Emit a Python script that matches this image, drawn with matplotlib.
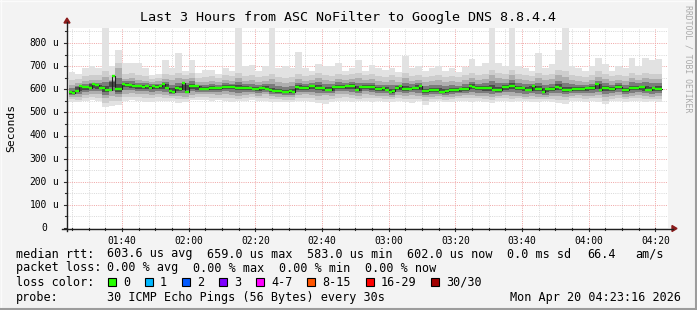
#!/usr/bin/env python3

import numpy as np
import matplotlib
matplotlib.use("Agg")
import matplotlib.pyplot as plt
from matplotlib.patches import Rectangle, Polygon
from matplotlib.lines import Line2D
from matplotlib import transforms

# --- data (microseconds, minutes since midnight) ---------------------------
first_minute = 84          # 01:24, one median per minute
median_rtt = [
    588, 583, 592, 612, 608, 610, 607, 622, 618, 606,
    604, 597, 598, 659, 601, 600, 621, 619, 618, 614,
    612, 613, 609, 616, 606, 614, 610, 612, 621, 604,
    592, 590, 604, 603, 628, 590, 612, 616, 614, 599,
    603, 602, 604, 605, 606, 605, 609, 610, 611, 610,
    607, 605, 606, 604, 605, 600, 599, 604, 606, 603,
    596, 594, 593, 592, 590, 588, 591, 589, 609, 605,
    604, 606, 613, 612, 605, 606, 604, 597, 598, 610,
    609, 611, 610, 614, 613, 612, 596, 610, 609, 611,
    610, 608, 603, 602, 604, 597, 590, 591, 605, 612,
    602, 601, 603, 605, 606, 612, 593, 592, 597, 598,
    597, 590, 589, 591, 597, 598, 596, 600, 601, 600,
    612, 611, 605, 606, 604, 605, 606, 598, 597, 596,
    608, 609, 613, 614, 605, 606, 604, 597, 598, 612,
    602, 601, 590, 600, 601, 599, 608, 607, 597, 596,
    598, 600, 601, 600, 599, 605, 606, 604, 622, 597,
    605, 604, 602, 601, 610, 609, 597, 598, 605, 604,
    606, 610, 611, 597, 596, 605, 602, 602,
]

# smoke, one column per two minutes
smoke_minutes = 2
ping_max = [
    675, 665, 690, 700, 690, 900, 700, 770, 713, 713,
    713, 690, 660, 665, 726, 690, 756, 680, 726, 670,
    683, 683, 665, 690, 680, 900, 700, 705, 680, 700,
    900, 690, 700, 690, 760, 690, 680, 710, 700, 700,
    713, 680, 690, 725, 680, 705, 690, 685, 690, 675,
    745, 690, 700, 680, 690, 700, 680, 690, 675, 695,
    730, 700, 713, 900, 713, 700, 900, 700, 690, 680,
    755, 690, 710, 770, 900, 700, 690, 680, 700, 735,
    710, 680, 700, 690, 735, 700, 735, 725, 730,
]
ping_upper = [
    620, 625, 635, 640, 640, 655, 640, 690, 645, 650,
    640, 635, 630, 635, 645, 640, 650, 645, 650, 630,
    630, 635, 630, 640, 635, 650, 635, 640, 630, 635,
    645, 630, 625, 630, 645, 635, 640, 650, 640, 635,
    645, 640, 645, 650, 640, 645, 635, 630, 640, 630,
    650, 635, 640, 630, 635, 640, 630, 635, 630, 640,
    650, 640, 645, 660, 650, 645, 660, 645, 640, 635,
    650, 640, 645, 660, 655, 640, 635, 630, 640, 655,
    645, 635, 640, 635, 650, 640, 650, 645, 645,
]
ping_lower = [
    568, 565, 575, 580, 578, 560, 570, 565, 580, 585,
    580, 578, 575, 580, 575, 570, 572, 568, 575, 578,
    580, 578, 575, 580, 576, 570, 575, 580, 572, 578,
    570, 568, 565, 566, 575, 578, 575, 570, 575, 572,
    578, 580, 575, 570, 578, 575, 572, 570, 568, 575,
    572, 575, 570, 565, 568, 570, 565, 568, 572, 575,
    575, 572, 570, 565, 572, 575, 570, 572, 568, 570,
    568, 565, 572, 570, 568, 572, 575, 570, 572, 575,
    565, 570, 575, 568, 572, 575, 570, 568, 572,
]
ping_min = [
    545, 546, 548, 553, 550, 525, 528, 532, 550, 552,
    550, 546, 545, 550, 548, 550, 540, 545, 553, 552,
    555, 550, 552, 548, 545, 548, 550, 553, 548, 550,
    545, 547, 546, 545, 548, 550, 546, 540, 536, 545,
    548, 550, 546, 548, 550, 546, 548, 545, 547, 550,
    545, 540, 548, 530, 545, 548, 546, 545, 548, 550,
    546, 548, 545, 540, 548, 550, 546, 548, 550, 545,
    546, 548, 545, 540, 535, 548, 550, 546, 548, 545,
    535, 548, 550, 546, 548, 550, 546, 548, 545,
]

y_ticks = [0, 100, 200, 300, 400, 500, 600, 700, 800]
x_tick_minutes = [100, 120, 140, 160, 180, 200, 220, 240, 260]
x_tick_labels = ["01:40", "02:00", "02:20", "02:40", "03:00",
                 "03:20", "03:40", "04:00", "04:20"]

title = "Last 3 Hours from ASC NoFilter to Google DNS 8.8.4.4"
rtt_stats = ["603.6 us avg", "659.0 us max", "583.0 us min",
             "602.0 us now", "0.0 ms sd", "66.4", "am/s"]
loss_stats = ["0.00 % avg", "0.00 % max", "0.00 % min", "0.00 % now"]
loss_labels = ["0", "1", "2", "3", "4-7", "8-15", "16-29", "30/30"]
loss_colors = ["#26ff00", "#00b8ff", "#0059ff", "#7e00ff",
               "#ff00ff", "#ff5500", "#ff0000", "#a10000"]
probe_text = "30 ICMP Echo Pings (56 Bytes) every 30s"
stamp = "Mon Apr 20 04:23:16 2026"

# --- layout ----------------------------------------------------------------
W, H = 697, 310
MONO = "DejaVu Sans Mono"


def fx(x):
    return x / W


def fy(y):
    return 1 - y / H


fig = plt.figure(figsize=(W / 100, H / 100), dpi=100, facecolor="#f3f3f3")

ax_l, ax_r, ax_t, ax_b = 67, 668, 28, 228
ax = fig.add_axes([fx(ax_l), fy(ax_b), fx(ax_r - ax_l), (ax_b - ax_t) / H])
ax.set_facecolor("white")
for s in ax.spines.values():
    s.set_visible(False)

t0 = 83.5
t1 = t0 + (ax_r - ax_l) * 0.3
ax.set_xlim(t0, t1)
ax.set_ylim(0, (ax_b - ax_t) / 0.23125)

# grid
dots = dict(lw=0.72, dashes=(1, 1.2), zorder=0.5)
for m in np.arange(85, 264, 5):
    major = m % 20 == 0
    ax.axvline(m, color="#f0a8a8" if major else "#dadada", **dots)
for v in np.arange(50, 870, 50):
    major = v % 100 == 0
    ax.axhline(v, color="#f0a8a8" if major else "#dadada", **dots)

# smoke
n_s = len(ping_max)
edges = first_minute + smoke_minutes * np.arange(n_s + 1)
pmax = np.append(ping_max, ping_max[-1])
pup = np.append(ping_upper, ping_upper[-1])
plo = np.append(ping_lower, ping_lower[-1])
pmin = np.append(ping_min, ping_min[-1])

# median resampled onto the smoke columns for the dark core
med = np.array(median_rtt, dtype=float)
med_s = med[: 2 * n_s].reshape(n_s, 2).mean(axis=1)
med_s = np.append(med_s, med_s[-1])

ax.fill_between(edges, pmin, pmax, step="post", color="#e2e2e2", lw=0, zorder=1)
ax.fill_between(edges, (pmin + plo) / 2, np.minimum((pmax + pup) / 2, pup + 22),
                step="post", color="#cdcdcd", lw=0, zorder=1.1)
ax.fill_between(edges, plo, pup, step="post", color="#aeaeae", lw=0, zorder=1.2)
ax.fill_between(edges, med_s - 0.6 * (med_s - plo), med_s + 0.55 * (pup - med_s),
                step="post", color="#7c7c7c", lw=0, zorder=1.3)
ax.fill_between(edges, med_s - 0.3 * (med_s - plo), med_s + 0.25 * (pup - med_s),
                step="post", color="#4a4a4a", lw=0, zorder=1.4)

# median
tm = first_minute + np.arange(len(med))
ax.step(np.append(tm, tm[-1] + 1), np.append(med, med[-1]), where="post",
        color="#202020", lw=0.8, zorder=2)
ax.hlines(med, tm, tm + 1, color=loss_colors[0], lw=1.7, zorder=3)

# ticks & labels
ax.set_xticks(x_tick_minutes)
ax.set_xticklabels(x_tick_labels, family=MONO, fontsize=6.9)
ax.set_yticks([])
ax.tick_params(axis="x", length=0, pad=6)

ylab = transforms.blended_transform_factory(fig.transFigure, ax.transData)
for v in y_ticks:
    ax.text(fx(47), v, str(v), transform=ylab, ha="right", va="center",
            family=MONO, fontsize=6.9)
    if v:
        ax.text(fx(52.5), v, "u", transform=ylab, ha="left", va="center",
                family=MONO, fontsize=6.9)

tick_tr = transforms.blended_transform_factory(fig.transFigure, ax.transData)
for v in np.arange(0, 870, 50):
    ln = 3 if v % 100 == 0 else 2
    ax.add_line(Line2D([fx(ax_l - ln), fx(ax_l)], [v, v], transform=tick_tr,
                       color="#303030", lw=0.8, clip_on=False))
xtick_tr = transforms.blended_transform_factory(ax.transData, fig.transFigure)
for m in np.arange(85, 264, 5):
    ln = 3 if m % 20 == 0 else 2
    ax.add_line(Line2D([m, m], [fy(ax_b), fy(ax_b + ln)], transform=xtick_tr,
                       color="#303030", lw=0.8, clip_on=False))

# axis lines with arrows
axc = "#202020"
fig.add_artist(Line2D([fx(62), fx(673)], [fy(ax_b + 0.5), fy(ax_b + 0.5)],
                      color=axc, lw=1.0))
fig.add_artist(Line2D([fx(ax_l), fx(ax_l)], [fy(231), fy(22)],
                      color=axc, lw=1.0))
fig.add_artist(Polygon([(fx(672), fy(225.5)), (fx(677), fy(228.5)),
                        (fx(672), fy(231.5))], closed=True, color="#8b1a1a"))
fig.add_artist(Polygon([(fx(64), fy(23)), (fx(67), fy(18)),
                        (fx(70), fy(23))], closed=True, color="#8b1a1a"))

# titles
fig.text(fx(348), fy(18), title, ha="center", va="center", family=MONO,
         fontsize=9.6)
fig.text(fx(11), fy(128), "Seconds", rotation=90, ha="center", va="center",
         family=MONO, fontsize=8.2)
fig.text(fx(688), fy(59), "RRDTOOL / TOBI OETIKER", rotation=270,
         ha="center", va="center", family=MONO, fontsize=5.9, color="#aaaaaa")

# legend
lf = dict(va="center", ha="left", family=MONO, fontsize=8.5)
fig.text(fx(16), fy(254), "median rtt:", **lf)
for x, s in zip([107, 207, 307, 407, 507, 587, 635], rtt_stats):
    fig.text(fx(x), fy(254), s, **lf)
fig.text(fx(16), fy(268), "packet loss:", **lf)
for x, s in zip([107, 193.5, 279, 365], loss_stats):
    fig.text(fx(x), fy(268), s, **lf)
fig.text(fx(16), fy(282), "loss color:", **lf)
for x, s, c in zip([108, 145, 182, 219, 256, 307, 366, 431],
                   loss_labels, loss_colors):
    fig.add_artist(Rectangle((fx(x), fy(286)), fx(8), 8 / H, facecolor=c,
                             edgecolor="black", lw=0.8))
    fig.text(fx(x + 15), fy(282), s, **lf)
fig.text(fx(16), fy(297), "probe:", **lf)
fig.text(fx(107), fy(297), probe_text, **lf)
fig.text(fx(681), fy(297), stamp, va="center", ha="right", family=MONO,
         fontsize=8.5)

# 3d frame
fig.add_artist(Line2D([0, 1], [fy(0.5), fy(0.5)], color="#fbfbfb", lw=1))
fig.add_artist(Line2D([fx(0.5), fx(0.5)], [0, 1], color="#fbfbfb", lw=1))
fig.add_artist(Line2D([0, 1], [fy(309), fy(309)], color="#9c9c9c", lw=1.5))
fig.add_artist(Line2D([fx(696), fx(696)], [0, 1], color="#9c9c9c", lw=1.5))

fig.savefig("out.png", dpi=100, facecolor=fig.get_facecolor())
plt.close(fig)
